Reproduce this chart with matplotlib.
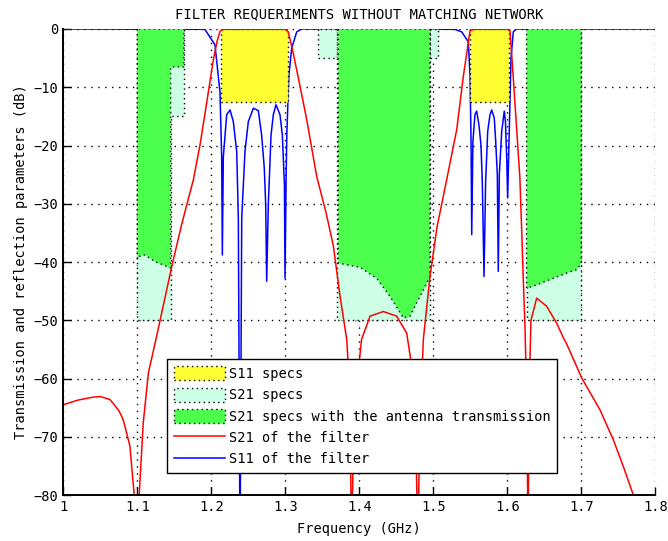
import matplotlib
matplotlib.use("Agg")
import matplotlib.pyplot as plt
from matplotlib.patches import Patch
from matplotlib.lines import Line2D

plt.rcParams['font.family'] = ['DejaVu Sans Mono']

# S21 of the filter (GHz, dB)
s21_f = [1.000, 1.020, 1.040, 1.050, 1.063, 1.075, 1.081, 1.090, 1.0955, 1.100,
         1.1027, 1.108, 1.115, 1.126, 1.1465, 1.160, 1.1757, 1.1847, 1.1937, 1.2027,
         1.208, 1.2118, 1.216, 1.300, 1.304, 1.3108, 1.320, 1.329, 1.3424, 1.355,
         1.365, 1.374, 1.383, 1.387, 1.3895, 1.392, 1.396, 1.403, 1.4145, 1.4324,
         1.4505, 1.464, 1.471, 1.476, 1.479, 1.482, 1.4865, 1.4955, 1.505, 1.518,
         1.5316, 1.5405, 1.5496, 1.555, 1.600, 1.6036, 1.608, 1.6127, 1.617, 1.6194,
         1.6216, 1.624, 1.6265, 1.628, 1.6295, 1.632, 1.6397, 1.6532, 1.6667, 1.6757,
         1.680, 1.7005, 1.7253, 1.7432, 1.7568, 1.7703, 1.780]
s21_db = [-64.5, -63.7, -63.2, -63.1, -63.6, -65.5, -67.1, -71.6, -79.6, -88.0,
          -79.6, -67.6, -59.0, -52.8, -40.8, -33.5, -25.9, -19.9, -12.7, -5.3,
          -2.0, -0.4, -0.05, -0.05, -0.5, -4.2, -9.9, -15.6, -25.3, -31.5,
          -37.3, -45.9, -53.3, -62.0, -88.0, -72.0, -62.0, -53.3, -49.3, -48.5,
          -49.3, -52.2, -58.0, -68.0, -88.0, -68.0, -53.3, -42.5, -34.0, -25.9,
          -17.3, -8.2, -0.3, -0.05, -0.05, -0.3, -8.2, -17.3, -25.6, -34.5,
          -43.0, -51.6, -65.0, -88.0, -62.0, -50.0, -46.2, -47.6, -50.5, -53.0,
          -54.0, -59.9, -65.4, -70.5, -75.1, -80.0, -83.0]

# S11 of the filter
s11_f = [1.000, 1.190, 1.1915, 1.2049, 1.2117, 1.214, 1.2149, 1.2162, 1.2208, 1.2253,
         1.2297, 1.2343, 1.2365, 1.2388, 1.2411, 1.2455, 1.250, 1.2568, 1.2635, 1.268,
         1.2716, 1.2735, 1.2748, 1.277, 1.2807, 1.2838, 1.2874, 1.2928, 1.296, 1.2988,
         1.2996, 1.301, 1.302, 1.304, 1.305, 1.3086, 1.3154, 1.322, 1.529, 1.5384,
         1.5473, 1.5496, 1.551, 1.5519, 1.5535, 1.5563, 1.5586, 1.5617, 1.5644, 1.5662,
         1.5685, 1.5707, 1.5735, 1.5766, 1.5789, 1.5824, 1.5843, 1.5865, 1.5878, 1.5892,
         1.5924, 1.5959, 1.5975, 1.5992, 1.6005, 1.6023, 1.605, 1.6081, 1.612, 1.800]
s11_db = [0.0, -0.05, -0.1, -2.7, -10.8, -22.0, -38.8, -22.0, -14.7, -13.9,
          -15.9, -21.0, -32.4, -90.0, -32.4, -21.0, -15.9, -13.6, -14.0, -18.2,
          -23.9, -30.2, -43.3, -30.2, -18.2, -14.7, -13.0, -14.7, -18.2, -26.8,
          -42.8, -26.0, -18.2, -10.8, -7.7, -3.3, -0.5, 0.0, -0.05, -0.5,
          -2.2, -7.9, -19.3, -35.3, -19.3, -14.7, -14.1, -16.5, -19.9, -26.2,
          -42.5, -26.2, -17.6, -14.7, -13.9, -15.3, -19.3, -25.0, -41.6, -25.0,
          -17.6, -14.1, -15.9, -22.2, -29.0, -19.3, -5.0, -0.5, 0.0, 0.0]

# S11 specs (bands, lower level)
s11_bands = [(1.213, 1.303), (1.550, 1.602)]
s11_level = -12.6

# S21 specs (light), as (frequencies, lower level)
s21_spec = [([1.100, 1.145, 1.145, 1.163], [-50, -50, -15, -15]),
            ([1.344, 1.370], [-5, -5]),
            ([1.370, 1.495], [-50, -50]),
            ([1.495, 1.507], [-5, -5]),
            ([1.626, 1.700], [-50, -50])]

# S21 specs with the antenna transmission (green)
ant_spec = [([1.100, 1.105, 1.110, 1.125, 1.145, 1.145, 1.163],
             [-39.5, -38.8, -38.8, -40.0, -41.0, -6.5, -6.5]),
            ([1.3716, 1.4009, 1.4235, 1.4415, 1.4595, 1.4685, 1.4775, 1.4865, 1.4955],
             [-40.2, -40.9, -42.8, -45.9, -49.6, -49.3, -47.0, -44.8, -42.5]),
            ([1.626, 1.640, 1.662, 1.680, 1.694, 1.700],
             [-44.5, -43.9, -42.8, -41.9, -41.3, -40.2])]

yellow = '#ffff33'
light = '#ccffe6'
green = '#4dff4d'
dots = (0, (1, 2.5))

fig = plt.figure(figsize=(6.68, 5.41), dpi=100)
ax = fig.add_axes([0.0948, 0.085, 0.8862, 0.8614])

for f, lo in s21_spec:
    ax.fill_between(f, lo, 0, facecolor=light, edgecolor='k', linestyle=dots,
                    linewidth=1, zorder=1.5)
for f, lo in ant_spec:
    ax.fill_between(f, lo, 0, facecolor=green, edgecolor='k', linestyle=dots,
                    linewidth=1, zorder=1.6)
for a, b in s11_bands:
    ax.fill_between([a, b], s11_level, 0, facecolor=yellow, edgecolor='k',
                    linestyle=dots, linewidth=1, zorder=1.7)

ax.plot(s11_f, s11_db, color='#0000ff', lw=1.1, zorder=1.2)
ax.plot(s21_f, s21_db, color='#ff0000', lw=1.1, zorder=2)

ax.set_xlim(1, 1.8)
ax.set_ylim(-80, 0)
xt = [1.0, 1.1, 1.2, 1.3, 1.4, 1.5, 1.6, 1.7, 1.8]
ax.set_xticks(xt)
ax.set_xticklabels(['1', '1.1', '1.2', '1.3', '1.4', '1.5', '1.6', '1.7', '1.8'])
ax.set_yticks(range(-80, 1, 10))
ax.tick_params(direction='in', length=6, width=1, labelsize=9.8, top=False, right=False)
ax.set_axisbelow(True)
ax.grid(True, color='k', linestyle=(0, (1, 4)), linewidth=1)
for s in ['top', 'right']:
    ax.spines[s].set_visible(False)
for s in ['left', 'bottom']:
    ax.spines[s].set_linewidth(1.4)

ax.set_xlabel('Frequency (GHz)', fontsize=9.8, labelpad=6)
ax.set_ylabel('Transmission and reflection parameters (dB)', fontsize=9.8, labelpad=4)
fig.text(0.5379, 0.974, 'FILTER REQUERIMENTS WITHOUT MATCHING NETWORK',
         fontsize=10, ha='center', va='center')

handles = [Patch(facecolor=yellow, edgecolor='k', linestyle=dots, linewidth=1),
           Patch(facecolor=light, edgecolor='k', linestyle=dots, linewidth=1),
           Patch(facecolor=green, edgecolor='k', linestyle=dots, linewidth=1),
           Line2D([], [], color='#ff0000', lw=1.1),
           Line2D([], [], color='#0000ff', lw=1.1)]
labels = ['S11 specs', 'S21 specs', 'S21 specs with the antenna transmission',
          'S21 of the filter', 'S11 of the filter']
leg = ax.legend(handles, labels, loc='lower left', bbox_to_anchor=(0.175, 0.047),
                fontsize=9.8, fancybox=False, framealpha=1, edgecolor='k',
                handlelength=3.75, handleheight=1.2, handletextpad=0.3,
                labelspacing=0.5, borderpad=0.5, borderaxespad=0)
leg.get_frame().set_linewidth(1)
leg.set_zorder(5)

fig.savefig('out.png', dpi=100)
